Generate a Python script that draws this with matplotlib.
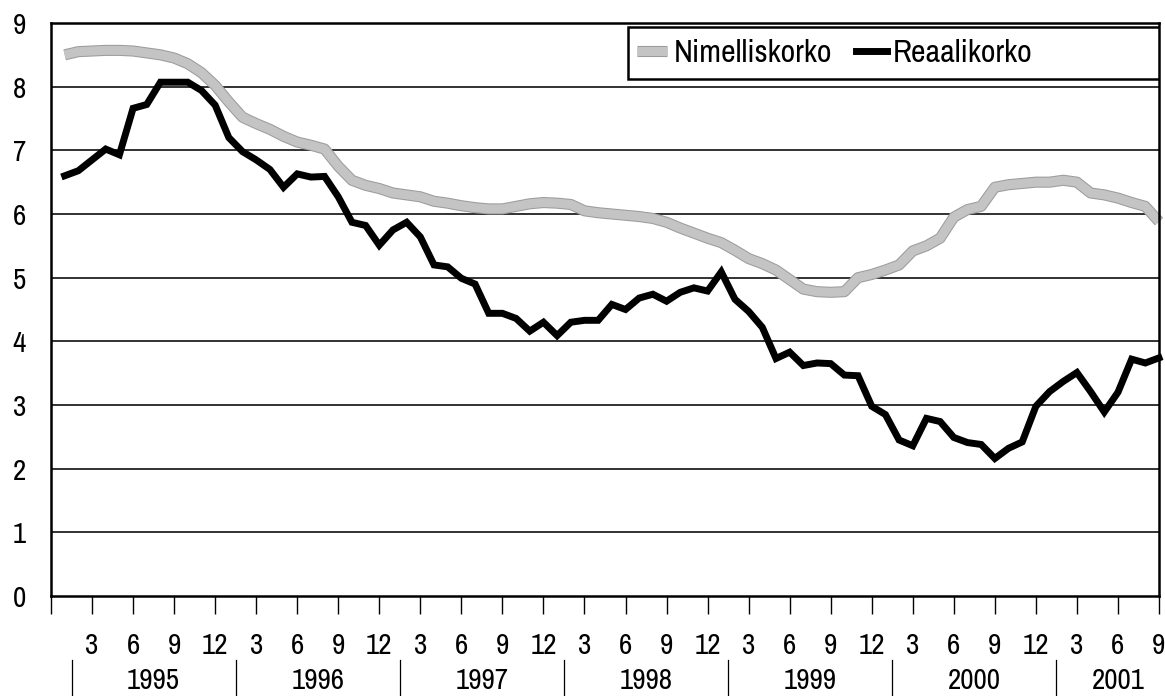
import matplotlib.pyplot as plt
import matplotlib.patheffects as pe
from matplotlib.patches import Rectangle
from matplotlib.transforms import blended_transform_factory
import numpy as np

plt.rcParams['font.family'] = ['Nimbus Sans Narrow', 'Liberation Sans Narrow', 'Arial Narrow',
                               'Archivo Narrow', 'Roboto Condensed', 'Liberation Sans']

# monthly data, Jan 1995 .. Sep 2001
months = np.arange(1, 82)

nimelliskorko = [8.50, 8.55, 8.56, 8.57, 8.57, 8.56, 8.53, 8.50, 8.45, 8.36, 8.22, 8.02,
                 7.76, 7.52, 7.42, 7.33, 7.22, 7.13, 7.08, 7.02, 6.75, 6.53, 6.45, 6.40,
                 6.33, 6.30, 6.27, 6.20, 6.17, 6.13, 6.10, 6.08, 6.08, 6.12, 6.16, 6.18,
                 6.17, 6.15, 6.05, 6.02, 6.00, 5.98, 5.96, 5.93, 5.87, 5.78, 5.70, 5.62,
                 5.55, 5.43, 5.30, 5.22, 5.12, 4.97, 4.82, 4.78, 4.77, 4.78, 5.00, 5.05,
                 5.12, 5.20, 5.42, 5.50, 5.62, 5.95, 6.07, 6.12, 6.42, 6.46, 6.48, 6.50,
                 6.50, 6.53, 6.50, 6.33, 6.30, 6.25, 6.18, 6.12, 5.88]

reaalikorko = [6.60, 6.68, 6.85, 7.02, 6.93, 7.66, 7.72, 8.07, 8.07, 8.07, 7.94, 7.71,
               7.20, 6.98, 6.85, 6.70, 6.42, 6.63, 6.58, 6.59, 6.27, 5.87, 5.82, 5.51,
               5.75, 5.87, 5.64, 5.20, 5.17, 4.99, 4.90, 4.44, 4.44, 4.36, 4.16, 4.30,
               4.09, 4.30, 4.33, 4.33, 4.58, 4.50, 4.68, 4.74, 4.63, 4.77, 4.84, 4.79,
               5.09, 4.66, 4.47, 4.22, 3.73, 3.83, 3.62, 3.66, 3.65, 3.47, 3.46, 2.98,
               2.85, 2.45, 2.36, 2.79, 2.74, 2.49, 2.41, 2.38, 2.16, 2.32, 2.42, 2.98,
               3.21, 3.37, 3.51, 3.21, 2.89, 3.20, 3.72, 3.66, 3.74]

years = ['1995', '1996', '1997', '1998', '1999', '2000', '2001']
month_labels = ['3', '6', '9', '12']

fig = plt.figure(figsize=(11.65, 6.96), dpi=100)
ax = fig.add_axes([51 / 1165, 100 / 696, 1108 / 1165, 573 / 696])

ax.plot(months, nimelliskorko, color='#c4c4c4', lw=6.5, solid_capstyle='butt',
        label='Nimelliskorko', clip_on=False,
        path_effects=[pe.Stroke(linewidth=8, foreground='#9c9c9c'), pe.Normal()])
ax.plot(months, reaalikorko, color='black', lw=5, solid_joinstyle='miter',
        label='Reaalikorko', clip_on=False)

ax.set_xlim(0, 81)
ax.set_ylim(0, 9)
ax.set_yticks(range(0, 10))
for v in range(1, 9):
    ax.axhline(v, color='#222222', lw=1.3, zorder=0)

ticks = list(range(0, 82, 3))
labels = [''] + [month_labels[i % 4] for i in range(len(ticks) - 1)]
ax.set_xticks(ticks)
ax.set_xticklabels(labels)
ax.tick_params(axis='x', direction='out', length=13, width=1, pad=13, labelsize=21)
ax.tick_params(axis='y', length=0, pad=18, labelsize=21)

for s in ax.spines.values():
    s.set_linewidth(1.8)
    s.set_color('black')

# year row below month ticks
tr = blended_transform_factory(ax.transData, ax.transAxes)
for i, y in enumerate(years):
    sep = 1.5 + 12 * i
    ax.plot([sep, sep], [-0.112, -0.18], transform=tr, color='black', lw=0.9, clip_on=False)
    centre = sep + 6 if i < len(years) - 1 else 78
    ax.text(centre, -0.147, y, transform=tr, ha='center', va='center', fontsize=21)

# legend: box reaches the right spine, entries sit at its left
ax.add_patch(Rectangle((0.5208, 0.9023), 0.4792, 0.0907, transform=ax.transAxes,
                       facecolor='white', edgecolor='black', lw=1.8, zorder=4))
leg = ax.legend(loc='center left', bbox_to_anchor=(0.529, 0.948), ncol=2, frameon=False,
                borderaxespad=0, borderpad=0, fontsize=23, handlelength=0.95,
                handletextpad=0.2, columnspacing=0.75)
leg.set_zorder(5)

fig.savefig('out.png', dpi=100)
